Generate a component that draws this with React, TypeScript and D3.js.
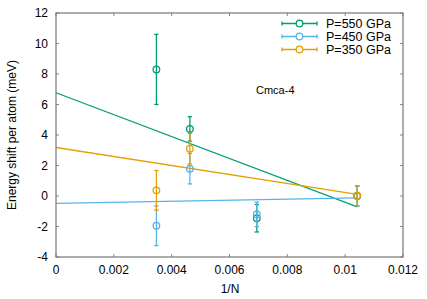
// @ts-nocheck
import * as d3 from "d3";

// 1/N values for the four cells
const invN = [1 / 288, 1 / 216, 1 / 144, 1 / 96];

const seriesNames = ["P=550 GPa", "P=450 GPa", "P=350 GPa"];
const seriesColors = ["#009e73", "#56b4e9", "#e69f00"];

// energy shift (meV) and error bars (null = no point)
const shift550 = [8.3, 4.4, -1.46, 0.0];
const err550 = [2.3, 0.8, 0.9, 0.65];
const shift450 = [-1.95, 1.79, -1.2, 0.0];
const err450 = [1.3, 1.0, 0.8, 0.65];
const shift350 = [0.37, 3.1, null, 0.02];
const err350 = [1.3, 1.0, null, 0.65];

// linear fits: value at 1/N = 0 and at last point
const fitStart = [6.77, -0.48, 3.18];
const fitEnd = [-0.72, -0.12, 0.1];

const xTicks = [0, 0.002, 0.004, 0.006, 0.008, 0.01, 0.012];
const yTicks = [-4, -2, 0, 2, 4, 6, 8, 10, 12];

const W = 427, H = 299;
const margin = { top: 13, right: 24, bottom: 42, left: 56 };
const font = "'Liberation Sans', Arial, sans-serif";

export default function App() {
  const width = W - margin.left - margin.right;
  const height = H - margin.top - margin.bottom;

  const x = d3.scaleLinear().domain([0, 0.012]).range([0, width]);
  const y = d3.scaleLinear().domain([-4, 12]).range([height, 0]);

  const values = [shift550, shift450, shift350];
  const errors = [err550, err450, err350];

  const line = d3.line().x(d => x(d[0])).y(d => y(d[1]));
  const tick = 3;

  return (
    <svg width={W} height={H} style={{ position: "absolute", left: 0, top: 0 }} fontFamily={font}>
      <rect width={W} height={H} fill="#fff" />
      <g transform={`translate(${margin.left},${margin.top})`}>
        {/* ticks */}
        {xTicks.map(t => (
          <g key={"x" + t}>
            <line x1={x(t)} x2={x(t)} y1={height} y2={height - tick} stroke="#888" />
            <line x1={x(t)} x2={x(t)} y1={0} y2={tick} stroke="#888" />
            <text x={x(t)} y={height + 17} fontSize={12} textAnchor="middle" fill="#000">{t === 0 ? "0" : String(t)}</text>
          </g>
        ))}
        {yTicks.map(t => (
          <g key={"y" + t}>
            <line x1={0} x2={tick} y1={y(t)} y2={y(t)} stroke="#888" />
            <line x1={width} x2={width - tick} y1={y(t)} y2={y(t)} stroke="#888" />
            <text x={-8} y={y(t) + 4} fontSize={12} textAnchor="end" fill="#000">{t}</text>
          </g>
        ))}

        {/* fit lines */}
        {fitStart.map((s, i) => (
          <path key={"fit" + i}
            d={line([[0, s], [invN[3], fitEnd[i]]])}
            stroke={seriesColors[i]} strokeWidth={1.3} fill="none" />
        ))}

        {/* error bars and points */}
        {values.map((vals, i) => (
          <g key={"s" + i} stroke={seriesColors[i]} strokeWidth={1.3} fill="none">
            {vals.map((v, j) => {
              if (v === null) return null;
              const cx = x(invN[j]);
              const lo = y(v - errors[i][j]);
              const hi = y(v + errors[i][j]);
              return (
                <g key={j}>
                  <line x1={cx} x2={cx} y1={lo} y2={hi} />
                  <line x1={cx - 2.2} x2={cx + 2.2} y1={lo} y2={lo} />
                  <line x1={cx - 2.2} x2={cx + 2.2} y1={hi} y2={hi} />
                  <circle cx={cx} cy={y(v)} r={3.3} />
                </g>
              );
            })}
          </g>
        ))}

        <rect x={0} y={0} width={width} height={height} fill="none" stroke="#777" strokeWidth={1.2} />

        <text x={200} y={81} fontSize={11} fill="#000">Cmca-4</text>

        {/* legend */}
        {seriesNames.map((n, i) => {
          const ly = 10.5 + i * 13;
          const x1 = 226, x2 = 261, xm = (x1 + x2) / 2;
          return (
            <g key={"l" + i}>
              <g stroke={seriesColors[i]} strokeWidth={1.3} fill="none">
                <line x1={x1} x2={x2} y1={ly} y2={ly} />
                <line x1={x1} x2={x1} y1={ly - 2} y2={ly + 2} />
                <line x1={x2} x2={x2} y1={ly - 2} y2={ly + 2} />
                <circle cx={xm} cy={ly} r={3.3} fill="#fff" />
              </g>
              <text x={270} y={ly + 4.5} fontSize={12.5} fill="#000">{n}</text>
            </g>
          );
        })}
      </g>

      <text x={230} y={293} fontSize={12} textAnchor="middle" fill="#000">1/N</text>
      <text transform={`translate(16,${margin.top + height / 2}) rotate(-90)`} fontSize={12} textAnchor="middle" fill="#000">Energy shift per atom (meV)</text>
    </svg>
  );
}
